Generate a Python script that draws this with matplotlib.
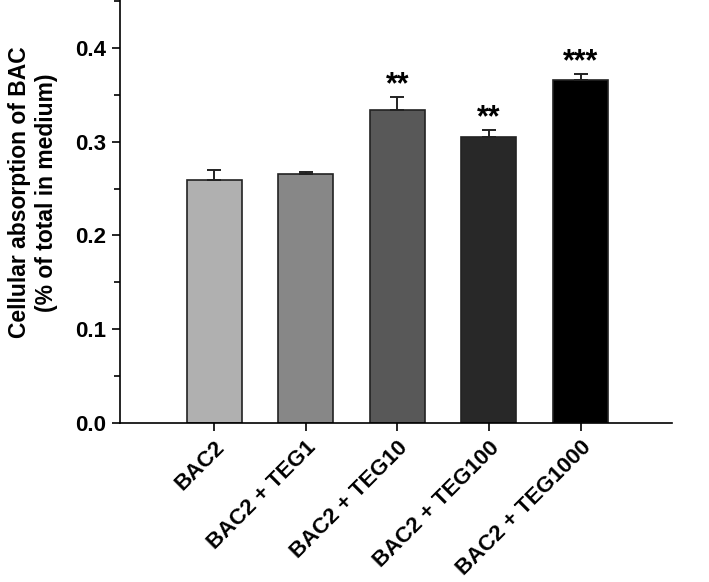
import matplotlib
matplotlib.use("Agg")
import matplotlib.pyplot as plt
from matplotlib.ticker import MultipleLocator

plt.rcParams["font.family"] = ["Liberation Sans", "DejaVu Sans"]
plt.rcParams["font.weight"] = "bold"

# Data
groups = ["BAC2", "BAC2 + TEG1", "BAC2 + TEG10", "BAC2 + TEG100", "BAC2 + TEG1000"]
means = [0.259, 0.265, 0.334, 0.305, 0.366]
errors = [0.011, 0.003, 0.014, 0.007, 0.006]
stars = ["", "", "**", "**", "***"]
colors = ["#b0b0b0", "#878787", "#585858", "#282828", "#000000"]

fig = plt.figure(figsize=(7.09, 5.82), dpi=100)
ax = fig.add_axes([0.169, 0.273, 0.779, 0.727])

x = list(range(len(groups)))
ax.bar(x, means, width=0.6, color=colors, edgecolor="#222222", linewidth=1.2, zorder=2)
ax.errorbar(x, means, yerr=[[0] * len(errors), errors], fmt="none", ecolor="#222222",
            elinewidth=1.4, capsize=5, capthick=1.4, zorder=3)

# significance marks just above the error bars
for xi, m, e, s in zip(x, means, errors, stars):
    if s:
        ax.text(xi, m + e + 0.004, s, ha="center", va="baseline", fontsize=22, fontweight="bold")

ax.set_xlim(-1.03, 5.0)
ax.set_ylim(0, 0.451)
ax.yaxis.set_minor_locator(MultipleLocator(0.05))
ax.set_yticks([0.0, 0.1, 0.2, 0.3, 0.4])
ax.set_yticklabels(["0.0", "0.1", "0.2", "0.3", "0.4"], fontsize=16, fontweight="bold")

ax.set_xticks(x)
ax.set_xticklabels(groups, rotation=45, ha="right", rotation_mode="anchor",
                   fontsize=16, fontweight="bold")

ax.spines["top"].set_visible(False)
ax.spines["right"].set_visible(False)
ax.spines["left"].set_linewidth(1.2)
ax.spines["bottom"].set_linewidth(1.2)
ax.tick_params(axis="both", which="major", direction="out", length=6, width=1.2, pad=4)
ax.tick_params(axis="y", which="minor", direction="out", length=4, width=1.2)

ax.set_ylabel("Cellular absorption of BAC\n(% of total in medium)", fontsize=16.5,
              fontweight="bold")
ax.yaxis.set_label_coords(-0.112, 0.545)

fig.savefig("out.png", dpi=100)
